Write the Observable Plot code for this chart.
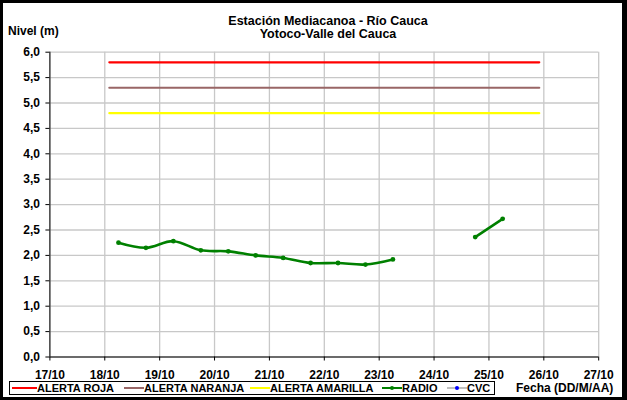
<!DOCTYPE html>
<html>
<head>
<meta charset="utf-8">
<script src="https://cdn.jsdelivr.net/npm/d3@7"></script>
<script src="https://cdn.jsdelivr.net/npm/@observablehq/plot@0.6"></script>
<style>
  html, body { margin: 0; padding: 0; background: #fff; }
  #wrap { position: relative; width: 627px; height: 400px; overflow: hidden; font-family: "Liberation Sans", Arial, sans-serif; font-weight: bold; color: #000; }
  #frame { position: absolute; left: 0; top: 0; width: 627px; height: 400px; box-sizing: border-box; border-style: solid; border-color: #000; border-width: 3px 5px 3px 3px; pointer-events: none; }
  .t { position: absolute; white-space: nowrap; }
  #title { left: 0; width: 656px; text-align: center; top: 15px; font-size: 12.5px; line-height: 13px; }
  #ylab { left: 8px; top: 24px; font-size: 12px; }
  #xlab { left: 516px; top: 381px; font-size: 12px; }
  #legend { position: absolute; left: 9px; top: 381px; width: 486px; height: 14px; box-sizing: border-box; border: 1px solid #000; font-size: 11px; }
  .li { position: absolute; top: 0; height: 12px; line-height: 12px; }
  .sw { position: absolute; top: 5px; height: 2px; }
  .dot { position: absolute; width: 4px; height: 4px; border-radius: 2px; top: 4px; }
</style>
</head>
<body>
<div id="wrap">
  <div id="chart"></div>
  <div class="t" id="title">Estación Mediacanoa - Río Cauca<br>Yotoco-Valle del Cauca</div>
  <div class="t" id="ylab">Nivel (m)</div>
  <div class="t" id="xlab">Fecha (DD/M/AA)</div>
  <div id="legend"></div>
  <div id="frame"></div>
</div>
<script>
// ---- data ----
const radioTimes = [
  "2011-10-18T06:00", "2011-10-18T18:00", "2011-10-19T06:00", "2011-10-19T18:00",
  "2011-10-20T06:00", "2011-10-20T18:00", "2011-10-21T06:00", "2011-10-21T18:00",
  "2011-10-22T06:00", "2011-10-22T18:00", "2011-10-23T06:00", "2011-10-24T06:00",
  "2011-10-24T18:00", "2011-10-25T06:00"
];
const radioLevels = [2.25, 2.15, 2.28, 2.10, 2.08, 2.00, 1.95, 1.85, 1.85, 1.82, 1.92, null, 2.36, 2.72];

const alertNames = ["ALERTA ROJA", "ALERTA NARANJA", "ALERTA AMARILLA"];
const alertLevels = [5.8, 5.3, 4.8];
const alertColors = ["#ff0000", "#996666", "#ffff00"];
const alertStart = "2011-10-18T02:00";
const alertEnd = "2011-10-25T22:00";

const xDomain = ["2011-10-17T00:00", "2011-10-27T00:00"];
const xTickDays = ["2011-10-17", "2011-10-18", "2011-10-19", "2011-10-20", "2011-10-21",
  "2011-10-22", "2011-10-23", "2011-10-24", "2011-10-25", "2011-10-26", "2011-10-27"];
const yTicks = [0, 0.5, 1, 1.5, 2, 2.5, 3, 3.5, 4, 4.5, 5, 5.5, 6];

const legendItems = [
  {label: "ALERTA ROJA", color: "#ff0000", x: 12, w: 25, tx: 37},
  {label: "ALERTA NARANJA", color: "#996666", x: 124, w: 20, tx: 144},
  {label: "ALERTA AMARILLA", color: "#ffff00", x: 250, w: 20, tx: 270},
  {label: "RADIO", color: "#008000", x: 382, w: 20, tx: 402, dot: "#008000"},
  {label: "CVC", color: "#c0c0c0", x: 447, w: 20, tx: 467, dot: "#0000ff"}
];

// ---- build ----
const p = s => new Date(s + "Z");
const radio = radioTimes.map((t, i) => ({t: p(t), v: radioLevels[i] == null ? NaN : radioLevels[i]}));
const alerts = alertNames.map((n, i) => ({name: n, v: alertLevels[i], color: alertColors[i]}));
const alertSegs = alerts.flatMap(a => [{name: a.name, t: p(alertStart), v: a.v}, {name: a.name, t: p(alertEnd), v: a.v}]);
const xt = xTickDays.map(d => p(d + "T00:00"));
const fmtY = d => d.toFixed(1).replace(".", ",");
const fmtX = d3.utcFormat("%d/%m");

const chart = Plot.plot({
  width: 627,
  height: 400,
  marginLeft: 49.4,
  marginRight: 28.8,
  marginTop: 51.7,
  marginBottom: 43.5,
  style: {fontFamily: "'Liberation Sans', Arial, sans-serif", fontWeight: "bold", fontSize: "12px", color: "#000", background: "transparent"},
  x: {type: "utc", domain: xDomain.map(p)},
  y: {domain: [0, 6]},
  marks: [
    Plot.gridX(xt, {stroke: "#c8c8c8", strokeOpacity: 1, strokeWidth: 1.3}),
    Plot.gridY(yTicks, {stroke: "#c8c8c8", strokeOpacity: 1, strokeWidth: 1.3}),
    Plot.axisY(yTicks, {tickFormat: fmtY, tickSize: 4, tickPadding: 6, stroke: "#000", label: null, fontSize: 12}),
    Plot.axisX(xt, {tickFormat: fmtX, tickSize: 4, tickPadding: 9, stroke: "#000", label: null, fontSize: 12}),
    Plot.ruleX([p(xDomain[0])], {stroke: "#000", strokeWidth: 1}),
    Plot.ruleY([0], {stroke: "#000", strokeWidth: 1}),
    Plot.line(alertSegs, {x: "t", y: "v", z: "name", stroke: "name", strokeWidth: 2.2}),
    Plot.line(radio, {x: "t", y: "v", stroke: "#008000", strokeWidth: 2.6, curve: "catmull-rom"}),
    Plot.dot(radio, {x: "t", y: "v", fill: "#008000", r: 2.4})
  ],
  color: {domain: alertNames, range: alertColors}
});
document.getElementById("chart").appendChild(chart);

const leg = document.getElementById("legend");
legendItems.forEach(it => {
  const sw = document.createElement("div");
  sw.className = "sw";
  sw.style.left = (it.x - 10) + "px";
  sw.style.width = it.w + "px";
  sw.style.background = it.color;
  leg.appendChild(sw);
  if (it.dot) {
    const d = document.createElement("div");
    d.className = "dot";
    d.style.left = (it.x - 10 + it.w / 2 - 2) + "px";
    d.style.background = it.dot;
    leg.appendChild(d);
  }
  const tx = document.createElement("div");
  tx.className = "li";
  tx.style.left = (it.tx - 10) + "px";
  tx.textContent = it.label;
  leg.appendChild(tx);
});
</script>
</body>
</html>
